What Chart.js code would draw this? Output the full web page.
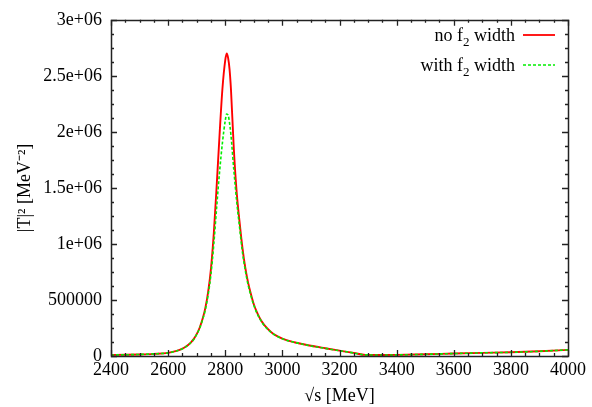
<!DOCTYPE html>
<html>
<head>
<meta charset="utf-8">
<script src="https://cdn.jsdelivr.net/npm/chart.js@4.4.0/dist/chart.umd.min.js"></script>
<style>
  html, body { margin: 0; padding: 0; background: #fff; }
</style>
</head>
<body>
<canvas id="tchart" width="592" height="407"></canvas>
<script>
// sqrt(s) in MeV
var sqrtS = [2400, 2450, 2500, 2550, 2600, 2630, 2650, 2660, 2670, 2680, 2690, 2700, 2710, 2720, 2730,
  2740, 2750, 2760, 2770, 2780, 2790, 2800, 2805, 2810, 2815, 2820, 2830, 2840, 2850, 2860, 2870,
  2880, 2890, 2900, 2910, 2920, 2930, 2940, 2960, 2980, 3000, 3030, 3050, 3100, 3150, 3200, 3250, 3290,
  3350, 3400, 3500, 3600, 3700, 3800, 3900, 4000];

// |T|^2, no f2 width
var noWidth = [9000, 11000, 14000, 19000, 28000, 45000, 65000, 80000, 98000, 122000, 153000, 195000, 250000, 325000, 425000,
  570000, 780000, 1100000, 1520000, 1970000, 2380000, 2640000, 2700000, 2660000, 2560000, 2380000, 1850000, 1460000, 1200000, 970000, 790000,
  655000, 552000, 462000, 395000, 342000, 300000, 266000, 215000, 180000, 156000, 130000, 118000, 91000, 69000, 48000, 28000, 10000,
  9000, 10000, 15000, 22000, 28000, 33000, 42000, 55000];

// |T|^2, with f2 width
var withWidth = [9000, 11000, 14000, 19000, 28000, 45000, 64000, 79000, 97000, 120000, 150000, 192000, 245000, 318000, 410000,
  545000, 730000, 1000000, 1330000, 1640000, 1900000, 2100000, 2160000, 2150000, 2080000, 1970000, 1660000, 1380000, 1150000, 930000, 765000,
  635000, 537000, 452000, 387000, 336000, 295000, 262000, 212000, 178000, 154000, 129000, 117000, 90000, 68000, 47000, 27000, 10000,
  9000, 10000, 15000, 22000, 28000, 33000, 42000, 55000];

var xTickValues = [2400, 2600, 2800, 3000, 3200, 3400, 3600, 3800, 4000];
var yTickValues = [0, 500000, 1000000, 1500000, 2000000, 2500000, 3000000];
var yTickLabels = ["0", "500000", "1e+06", "1.5e+06", "2e+06", "2.5e+06", "3e+06"];

// legend entries: [text before subscript, subscript, text after]
var legendParts = [["no f", "2", " width"], ["with f", "2", " width"]];
var seriesColors = ["#ff0000", "#00ee00"];

var serif = "'Liberation Serif', 'Times New Roman', serif";
Chart.defaults.font.family = serif;
Chart.defaults.font.size = 18;
Chart.defaults.color = "#000";

function points(ys) {
  return sqrtS.map(function (x, i) { return { x: x, y: ys[i] }; });
}

// gnuplot style frame, inward ticks and key
var gnuplotFrame = {
  id: "gnuplotFrame",
  afterDraw: function (chart) {
    var ctx = chart.ctx;
    var a = chart.chartArea;
    var xs = chart.scales.x, ys = chart.scales.y;
    ctx.save();
    ctx.strokeStyle = "#222";
    ctx.lineWidth = 1.3;
    ctx.beginPath();
    var v, px, len;
    for (v = 2400; v <= 4000; v += 50) {
      px = Math.round(xs.getPixelForValue(v)) + 0.5;
      len = v % 200 === 0 ? 6 : 3;
      ctx.moveTo(px, a.bottom); ctx.lineTo(px, a.bottom - len);
      ctx.moveTo(px, a.top); ctx.lineTo(px, a.top + len);
    }
    for (v = 0; v <= 3000000; v += 125000) {
      px = Math.round(ys.getPixelForValue(v)) + 0.5;
      len = v % 500000 === 0 ? 6 : 3;
      ctx.moveTo(a.left, px); ctx.lineTo(a.left + len, px);
      ctx.moveTo(a.right, px); ctx.lineTo(a.right - len, px);
    }
    ctx.stroke();
    ctx.lineWidth = 1.5;
    ctx.strokeRect(Math.round(a.left) + 0.5, Math.round(a.top) + 0.5,
      Math.round(a.right - a.left), Math.round(a.bottom - a.top));

    // key
    var rightX = 515, base0 = 41, rowH = 30;
    legendParts.forEach(function (p, i) {
      var base = base0 + i * rowH;
      ctx.font = "18px " + serif;
      var w1 = ctx.measureText(p[0]).width;
      var w3 = ctx.measureText(p[2]).width;
      ctx.font = "13px " + serif;
      var w2 = ctx.measureText(p[1]).width;
      var x0 = rightX - (w1 + w2 + w3);
      ctx.fillStyle = "#000";
      ctx.textBaseline = "alphabetic";
      ctx.textAlign = "left";
      ctx.font = "18px " + serif;
      ctx.fillText(p[0], x0, base);
      ctx.font = "13px " + serif;
      ctx.fillText(p[1], x0 + w1, base + 5);
      ctx.font = "18px " + serif;
      ctx.fillText(p[2], x0 + w1 + w2, base);
      ctx.strokeStyle = seriesColors[i];
      ctx.lineWidth = i === 0 ? 1.8 : 1.5;
      ctx.setLineDash(i === 0 ? [] : [3, 2]);
      ctx.beginPath();
      ctx.moveTo(523, base - 6);
      ctx.lineTo(555, base - 6);
      ctx.stroke();
      ctx.setLineDash([]);
    });
    ctx.restore();
  }
};

new Chart(document.getElementById("tchart").getContext("2d"), {
  type: "line",
  data: {
    datasets: [
      {
        label: "no f2 width",
        data: points(noWidth),
        borderColor: seriesColors[0],
        borderWidth: 1.9,
        pointRadius: 0,
        cubicInterpolationMode: "monotone",
        fill: false,
        order: 1
      },
      {
        label: "with f2 width",
        data: points(withWidth),
        borderColor: seriesColors[1],
        borderWidth: 1.6,
        borderDash: [3, 2],
        pointRadius: 0,
        cubicInterpolationMode: "monotone",
        fill: false,
        order: 0
      }
    ]
  },
  options: {
    responsive: false,
    animation: false,
    layout: { padding: { top: 14, right: 24, left: 0, bottom: 0 } },
    plugins: {
      legend: { display: false },
      tooltip: { enabled: false }
    },
    scales: {
      x: {
        type: "linear",
        min: 2400,
        max: 4000,
        afterFit: function (s) { s.height = 51; },
        afterBuildTicks: function (s) { s.ticks = xTickValues.map(function (v) { return { value: v }; }); },
        grid: { display: false, drawTicks: false },
        border: { display: false },
        ticks: { padding: 3, maxRotation: 0, autoSkip: false, callback: function (v) { return String(v); } },
        title: { display: true, text: "\u221As [MeV]", padding: { top: 0, bottom: 0 }, font: { size: 18 } }
      },
      y: {
        min: 0,
        max: 3000000,
        afterFit: function (s) { s.width = 111; },
        afterBuildTicks: function (s) { s.ticks = yTickValues.map(function (v) { return { value: v }; }); },
        grid: { display: false, drawTicks: false },
        border: { display: false },
        ticks: {
          padding: 9,
          autoSkip: false,
          callback: function (v) { var i = yTickValues.indexOf(v); return i >= 0 ? yTickLabels[i] : ""; }
        },
        title: { display: true, text: "|T|\u00B2 [MeV\u207B\u00B2]", padding: { top: 14, bottom: 0 }, font: { size: 18 } }
      }
    }
  },
  plugins: [gnuplotFrame]
});
</script>
</body>
</html>
